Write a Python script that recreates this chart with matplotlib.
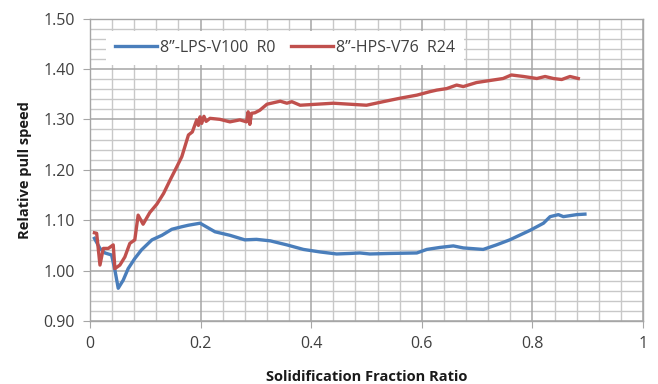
import matplotlib
matplotlib.use("Agg")
import matplotlib.pyplot as plt
from matplotlib.ticker import MultipleLocator, FixedLocator

# Relative pull speed vs. solidification fraction for two crystal growth runs
lps_x = [0.008, 0.018, 0.027, 0.039, 0.045, 0.051, 0.06, 0.069, 0.081, 0.093,
         0.112, 0.13, 0.148, 0.166, 0.178, 0.199, 0.226, 0.253, 0.28, 0.301,
         0.326, 0.356, 0.386, 0.416, 0.446, 0.47, 0.488, 0.506, 0.542, 0.591,
         0.609, 0.633, 0.657, 0.675, 0.711, 0.735, 0.759, 0.796, 0.82, 0.832,
         0.847, 0.856, 0.88, 0.895]
lps_y = [1.064, 1.044, 1.035, 1.031, 1.001, 0.965, 0.981, 1.004, 1.024, 1.041,
         1.061, 1.070, 1.082, 1.087, 1.090, 1.094, 1.077, 1.070, 1.061, 1.062,
         1.059, 1.051, 1.042, 1.037, 1.033, 1.034, 1.035, 1.033, 1.034, 1.035,
         1.042, 1.046, 1.049, 1.045, 1.042, 1.051, 1.061, 1.080, 1.094, 1.107,
         1.111, 1.107, 1.111, 1.112]

hps_x = [0.008, 0.012, 0.018, 0.024, 0.033, 0.042, 0.045, 0.054, 0.063, 0.072,
         0.081, 0.087, 0.096, 0.108, 0.121, 0.133, 0.145, 0.157, 0.166, 0.178,
         0.185, 0.193, 0.196, 0.199, 0.202, 0.206, 0.210, 0.217, 0.235, 0.253,
         0.271, 0.283, 0.286, 0.289, 0.292, 0.298, 0.307, 0.320, 0.344, 0.356,
         0.365, 0.380, 0.410, 0.440, 0.470, 0.50, 0.53, 0.561, 0.591, 0.615,
         0.627, 0.645, 0.663, 0.675, 0.699, 0.723, 0.747, 0.762, 0.784, 0.808,
         0.823, 0.838, 0.853, 0.868, 0.883]
hps_y = [1.075, 1.074, 1.011, 1.044, 1.044, 1.051, 1.004, 1.011, 1.027, 1.054,
         1.061, 1.110, 1.092, 1.115, 1.132, 1.153, 1.180, 1.206, 1.226, 1.269,
         1.275, 1.299, 1.288, 1.305, 1.292, 1.306, 1.296, 1.302, 1.300, 1.295,
         1.299, 1.295, 1.315, 1.290, 1.312, 1.313, 1.318, 1.330, 1.336, 1.332,
         1.335, 1.328, 1.330, 1.332, 1.330, 1.328, 1.335, 1.342, 1.348, 1.355,
         1.358, 1.361, 1.368, 1.365, 1.373, 1.377, 1.381, 1.388, 1.385, 1.381,
         1.385, 1.381, 1.379, 1.385, 1.381]

series_labels = ["8\u201d-LPS-V100  R0", "8\u201d-HPS-V76  R24"]
x_ticks = [0, 0.2, 0.4, 0.6, 0.8, 1]
x_tick_labels = ["0", "0.2", "0.4", "0.6", "0.8", "1"]
y_ticks = [0.90, 1.00, 1.10, 1.20, 1.30, 1.40, 1.50]
y_tick_labels = ["0.90", "1.00", "1.10", "1.20", "1.30", "1.40", "1.50"]

plt.rcParams['font.family'] = ['Open Sans', 'DejaVu Sans']

fig = plt.figure(figsize=(6.58, 3.84), dpi=100)
ax = fig.add_axes([0.1368, 0.164, 0.8404, 0.7878])

ax.set_xlim(0, 1)
ax.set_ylim(0.90, 1.50)
ax.xaxis.set_major_locator(FixedLocator(x_ticks))
ax.set_xticklabels(x_tick_labels)
ax.yaxis.set_major_locator(FixedLocator(y_ticks))
ax.set_yticklabels(y_tick_labels)
ax.xaxis.set_minor_locator(MultipleLocator(0.04))
ax.yaxis.set_minor_locator(MultipleLocator(0.02))

# Fine and coarse grid at the axis tick locations
for xv in ax.xaxis.get_minorticklocs():
    ax.axvline(xv, color="#c8c8c8", lw=1.0, zorder=1, snap=True)
for yv in ax.yaxis.get_minorticklocs():
    ax.axhline(yv, color="#c8c8c8", lw=1.0, zorder=1, snap=True)
for xv in ax.xaxis.get_majorticklocs():
    ax.axvline(xv, color="#a6a6a6", lw=1.1, zorder=1.1, snap=True)
for yv in ax.yaxis.get_majorticklocs():
    ax.axhline(yv, color="#a6a6a6", lw=1.1, zorder=1.1, snap=True)

ax.plot(lps_x, lps_y, color="#4a7ebb", lw=2.4, label=series_labels[0],
        solid_joinstyle="round", zorder=3)
ax.plot(hps_x, hps_y, color="#c0504d", lw=2.4, label=series_labels[1],
        solid_joinstyle="round", zorder=3)

ax.tick_params(which="major", length=5, color="#a6a6a6", labelsize=11.5,
               labelcolor="#404040", pad=6)
ax.tick_params(which="minor", length=0)

for s in ax.spines.values():
    s.set_color("#a6a6a6")
    s.set_linewidth(1.0)

ax.set_xlabel("Solidification Fraction Ratio", fontsize=10.5,
              fontweight="bold", color="#1a1a1a", labelpad=13)
ax.set_ylabel("Relative pull speed", fontsize=10.5, fontweight="bold",
              color="#1a1a1a", labelpad=8)

leg = ax.legend(loc="upper left", bbox_to_anchor=(0.015, 0.985), ncol=2,
                frameon=True, fontsize=11.5, handlelength=2.6,
                handletextpad=0.2, columnspacing=1.0, borderpad=0.55,
                labelcolor="#404040")
leg.get_frame().set_facecolor("white")
leg.get_frame().set_edgecolor("none")
leg.get_frame().set_alpha(1.0)
leg.get_frame().set_boxstyle("square", pad=0.0)

fig.savefig("out.png", dpi=100)
